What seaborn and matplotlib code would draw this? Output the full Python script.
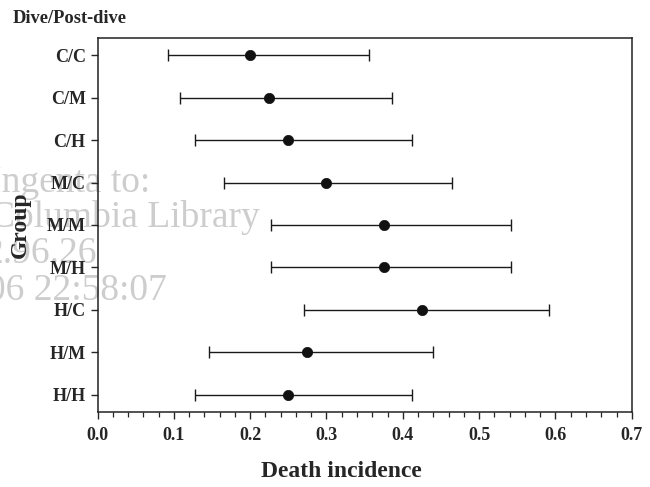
import matplotlib
matplotlib.use("Agg")
import matplotlib.pyplot as plt
import seaborn as sns
import pandas as pd
import numpy as np
from matplotlib.ticker import MultipleLocator, FormatStrFormatter

# data
groups = ['C/C', 'C/M', 'C/H', 'M/C', 'M/M', 'M/H', 'H/C', 'H/M', 'H/H']
incidence = [0.200, 0.225, 0.250, 0.300, 0.375, 0.375, 0.425, 0.275, 0.250]
ci_low = [0.092, 0.108, 0.128, 0.166, 0.227, 0.227, 0.270, 0.146, 0.128]
ci_high = [0.356, 0.386, 0.412, 0.465, 0.542, 0.542, 0.591, 0.439, 0.412]

df = pd.DataFrame({'Group': groups, 'Incidence': incidence,
                   'Low': ci_low, 'High': ci_high})

sns.set_style('ticks')
plt.rcParams['font.family'] = ['Liberation Serif', 'DejaVu Serif']
plt.rcParams['font.weight'] = 'bold'

fig = plt.figure(figsize=(6.5, 4.87), dpi=100)
ax = fig.add_axes([0.150, 0.155, 0.822, 0.766])
ax.patch.set_visible(False)

# faint watermark from the scanned source
wm = dict(color='#cdcdcd', fontsize=27, fontweight='normal', ha='right',
          va='baseline', zorder=-5)
fig.text(150 / 650, 1 - 192 / 487, 'Ingenta to:', **wm)
fig.text(260 / 650, 1 - 227 / 487, 'Columbia Library', **wm)
fig.text(97 / 650, 1 - 263 / 487, '2.96.26', **wm)
fig.text(167 / 650, 1 - 300 / 487, '06 22:58:07', **wm)

xerr = np.array([df['Incidence'] - df['Low'], df['High'] - df['Incidence']])
ax.errorbar(df['Incidence'], df['Group'], xerr=xerr, fmt='none',
            ecolor='#1a1a1a', elinewidth=1.0, capsize=4.3, capthick=1.0,
            zorder=2)
sns.scatterplot(data=df, x='Incidence', y='Group', ax=ax, color='#111111',
                s=55, edgecolor='#111111', linewidth=0.5, zorder=3)

ax.set_xlim(0, 0.7)
ax.set_ylim(8.39, -0.39)
ax.xaxis.set_major_locator(MultipleLocator(0.1))
ax.xaxis.set_minor_locator(MultipleLocator(0.02))
ax.xaxis.set_major_formatter(FormatStrFormatter('%.1f'))

for s in ax.spines.values():
    s.set_visible(True)
    s.set_linewidth(1.1)
    s.set_color('#222222')

ax.tick_params(axis='x', which='major', length=5, width=1.0, pad=6,
               labelsize=13, direction='out')
ax.tick_params(axis='x', which='minor', length=3.5, width=0.9,
               direction='out')
ax.tick_params(axis='y', length=5, width=1.0, pad=3.5, labelsize=13,
               direction='out')
for lab in ax.get_xticklabels() + ax.get_yticklabels():
    lab.set_fontweight('bold')

ax.set_xlabel('Death incidence', fontsize=17, fontweight='bold')
ax.xaxis.set_label_coords((342 - 98) / 534, -(478 - 412) / 374)
ax.xaxis.label.set_va('baseline')
ax.set_ylabel('Group', fontsize=17, fontweight='bold')
ax.yaxis.set_label_coords((21 - 98) / 534, 0.5)
ax.yaxis.label.set_va('center')

fig.text(13 / 650, 1 - 23 / 487, 'Dive/Post-dive', fontsize=13.3,
         fontweight='bold', va='baseline', ha='left')

fig.savefig('out.png', dpi=100)
